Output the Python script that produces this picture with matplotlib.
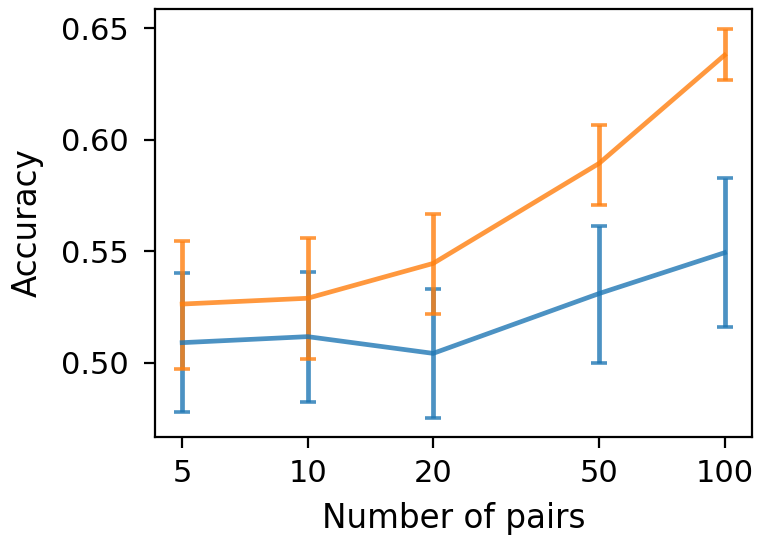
import matplotlib
matplotlib.use("Agg")
import matplotlib.pyplot as plt
import numpy as np
from matplotlib.ticker import FixedLocator, FixedFormatter, NullLocator

pairs = [5, 10, 20, 50, 100]
tick_labels = ["5", "10", "20", "50", "100"]

blue_mean = [0.5091, 0.5118, 0.5043, 0.5311, 0.5494]
blue_upper = [0.5404, 0.5409, 0.5331, 0.5614, 0.5827]
blue_lower = [0.4782, 0.4825, 0.4755, 0.4999, 0.5163]

orange_mean = [0.5264, 0.5290, 0.5446, 0.5894, 0.6379]
orange_upper = [0.5546, 0.5561, 0.5667, 0.6066, 0.6496]
orange_lower = [0.4972, 0.5018, 0.5218, 0.5708, 0.6267]

fig = plt.figure(figsize=(7.6, 5.4), dpi=100)
ax = fig.add_axes([0.204, 0.191, 0.785, 0.792])

def draw(mean, lo, hi, color):
    mean = np.array(mean)
    yerr = [mean - np.array(lo), np.array(hi) - mean]
    ax.errorbar(pairs, mean, yerr=yerr, color=color, alpha=0.8,
                linewidth=3.4, elinewidth=3.4, capsize=6, capthick=2.6)

draw(blue_mean, blue_lower, blue_upper, "#1f77b4")
draw(orange_mean, orange_lower, orange_upper, "#ff7f0e")

ax.set_xscale("log")
ax.xaxis.set_major_locator(FixedLocator(pairs))
ax.xaxis.set_major_formatter(FixedFormatter(tick_labels))
ax.xaxis.set_minor_locator(NullLocator())
ax.set_ylim(0.4669, 0.6585)
ax.set_yticks([0.50, 0.55, 0.60, 0.65])
ax.set_yticklabels(["0.50", "0.55", "0.60", "0.65"])

ax.tick_params(labelsize=22, length=8, width=1.6)
ax.tick_params(axis="x", pad=8)
ax.tick_params(axis="y", pad=11)
for s in ax.spines.values():
    s.set_linewidth(1.6)
ax.set_xlabel("Number of pairs", fontsize=23.5, labelpad=10)
ax.set_ylabel("Accuracy", fontsize=23.5, labelpad=12)

fig.savefig("out.png", dpi=100)
